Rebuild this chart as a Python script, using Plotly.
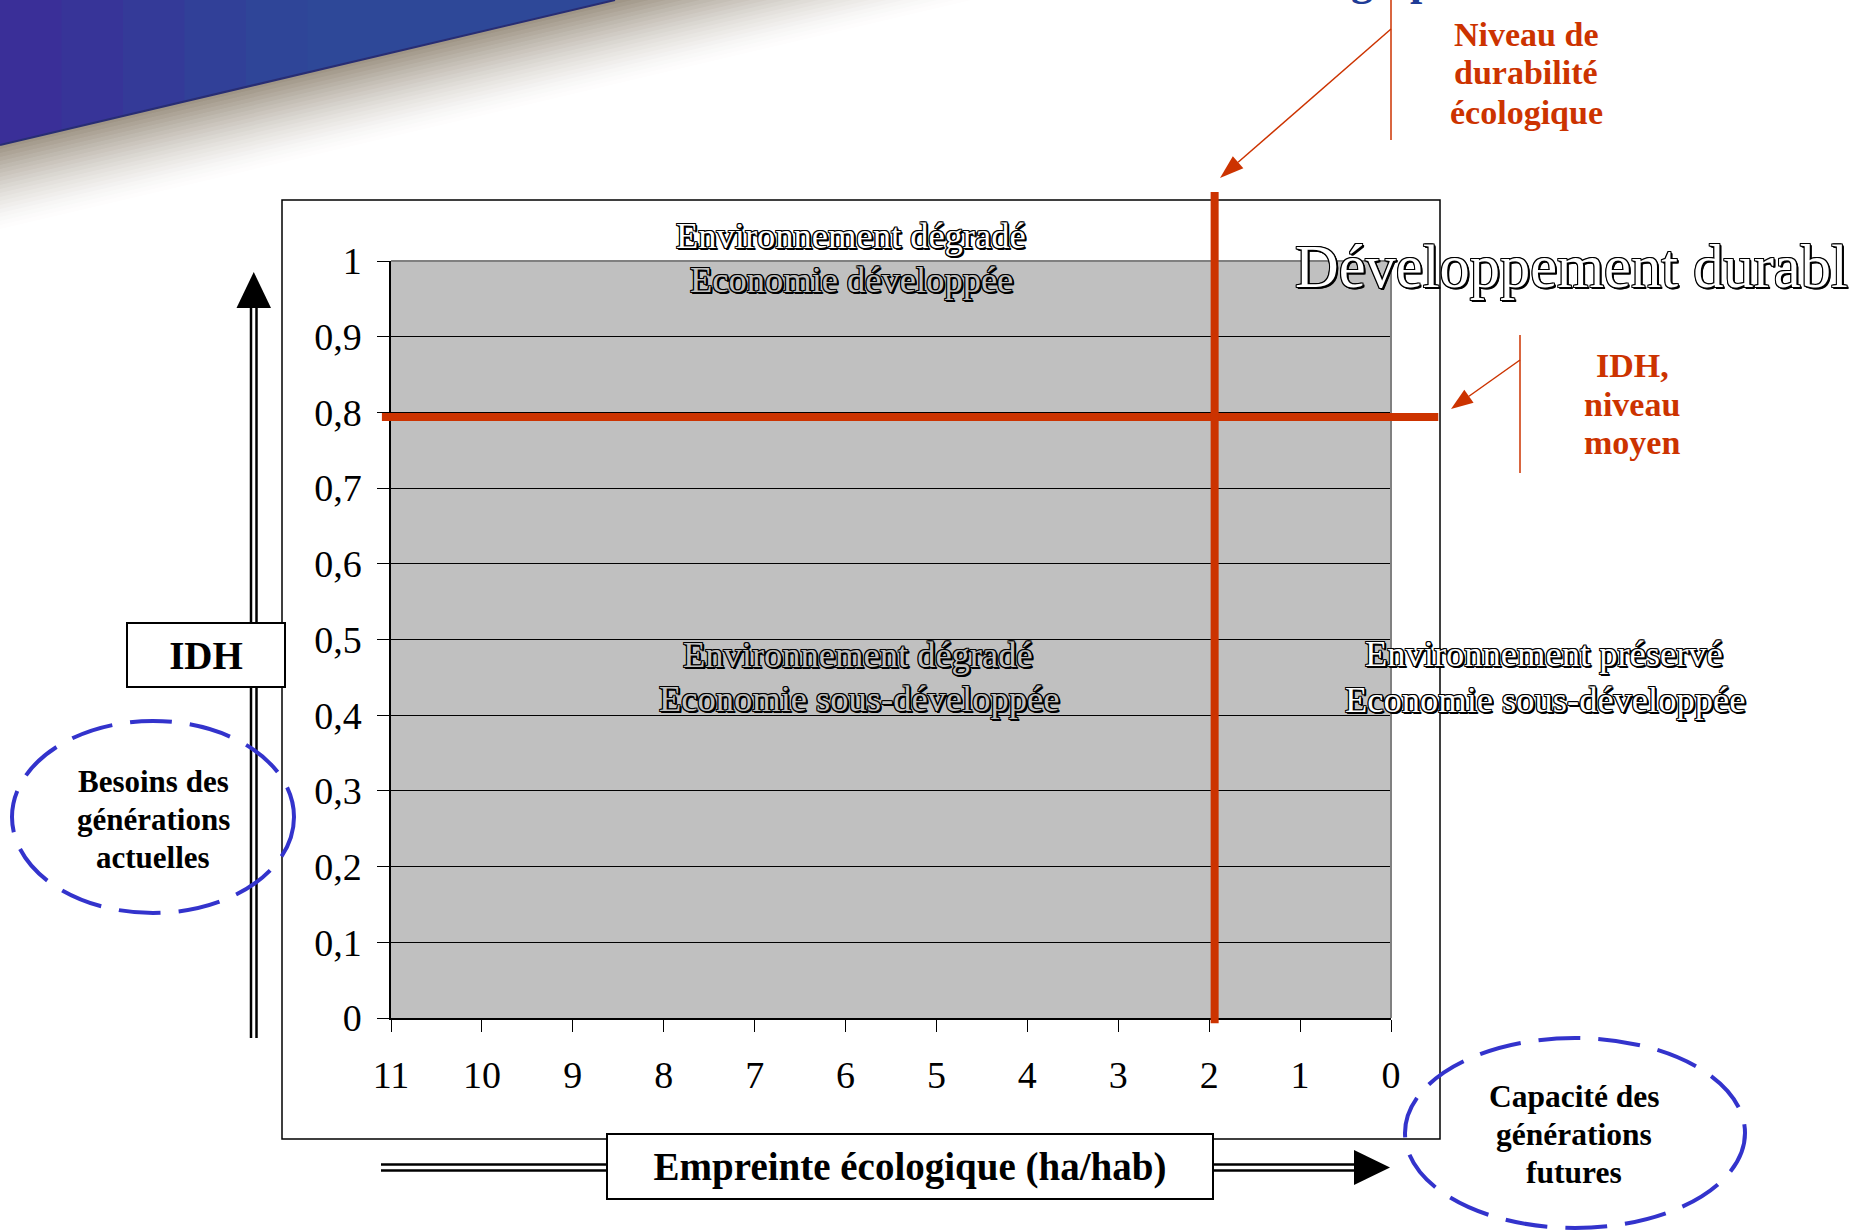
import plotly.graph_objects as go

# ---------------------------------------------------------------------------
# Data
# ---------------------------------------------------------------------------
# Empreinte écologique (ha/hab), axis read from 11 down to 0
X_TICKS = [11, 10, 9, 8, 7, 6, 5, 4, 3, 2, 1, 0]
X_TICK_LABELS = ["11", "10", "9", "8", "7", "6", "5", "4", "3", "2", "1", "0"]

# Indice de développement humain
Y_TICKS = [0, 0.1, 0.2, 0.3, 0.4, 0.5, 0.6, 0.7, 0.8, 0.9, 1]
Y_TICK_LABELS = ["0", "0,1", "0,2", "0,3", "0,4", "0,5", "0,6", "0,7", "0,8", "0,9", "1"]

# Reference levels drawn as the two red lines
ECO_LEVEL = 1.94    # niveau de durabilité écologique (ha/hab)
IDH_LEVEL = 0.794   # IDH, niveau moyen

QUADRANT_TOP = ["Environnement dégradé", "Economie développée"]
QUADRANT_MID = ["Environnement dégradé", "Economie sous-développée"]
QUADRANT_RIGHT = ["Environnement préservé", "Economie sous-développée"]
CORNER_TITLE = "Développement durable"
ECO_NOTE = ["Niveau de", "durabilité", "écologique"]
IDH_NOTE = ["IDH,", "niveau", "moyen"]
NEEDS_NOTE = ["Besoins des", "générations", "actuelles"]
FUTURE_NOTE = ["Capacité des", "générations", "futures"]
X_TITLE = "Empreinte écologique (ha/hab)"
Y_TITLE = "IDH"

# ---------------------------------------------------------------------------
# Page geometry (pixels) and helpers
# ---------------------------------------------------------------------------
W, H = 1849, 1232
PLOT_L, PLOT_R, PLOT_T, PLOT_B = 391, 1391, 261, 1018
X_MAX, X_MIN = 11, 0

RED = "#CC3300"
BLUE = "#3333CC"
SERIF = "Liberation Serif, Times New Roman, serif"


def px(x):
    return x / W


def py(y):
    return 1 - y / H


def xdom(v):
    """Data value on the reversed x axis -> fraction of the x domain."""
    return (X_MAX - v) / (X_MAX - X_MIN)


shapes = []
annotations = []

# --- slide decoration: blue banner with a soft shadow below its edge -------
EDGE_X, EDGE_Y = 615, 145


def edge_y(x):
    return EDGE_Y * (1 - x / EDGE_X)


n_shadow = 22
for k in range(n_shadow):
    d0, d1 = k * 4.0, (k + 1) * 4.0 + 0.8
    t = k / (n_shadow - 1)
    f = (1 - t) ** 1.5
    c = [int(255 - (255 - b) * f) for b in (160, 150, 135)]
    xa, xb = EDGE_X * (1 + d0 / EDGE_Y), EDGE_X * (1 + d1 / EDGE_Y)
    path = (f"M {px(0)},{py(EDGE_Y + d0)} L {px(0)},{py(EDGE_Y + d1)} "
            f"L {px(xb)},{py(0)} L {px(xa)},{py(0)} Z")
    shapes.append(dict(type="path", xref="paper", yref="paper", path=path,
                       fillcolor=f"rgb({c[0]},{c[1]},{c[2]})",
                       line=dict(width=0), layer="below"))

# banner body, painted in overlapping vertical slices for a left-to-right tint
n_blue = 10
for k in range(n_blue):
    x0 = EDGE_X * k / n_blue
    x1 = min(EDGE_X, EDGE_X * (k + 1) / n_blue + 3)
    t = min(1.0, (x0 + x1) / 2 / 300)
    c = [int(a + (b - a) * t) for a, b in zip((60, 44, 152), (46, 72, 152))]
    path = (f"M {px(x0)},{py(0)} L {px(x1)},{py(0)} L {px(x1)},{py(edge_y(x1))} "
            f"L {px(x0)},{py(edge_y(x0))} Z")
    shapes.append(dict(type="path", xref="paper", yref="paper", path=path,
                       fillcolor=f"rgb({c[0]},{c[1]},{c[2]})",
                       line=dict(width=0), layer="below"))
shapes.append(dict(type="line", xref="paper", yref="paper",
                   x0=px(0), y0=py(EDGE_Y), x1=px(EDGE_X), y1=py(0),
                   line=dict(color="rgb(40,45,115)", width=2), layer="below"))

# --- chart frame -------------------------------------------------------------
shapes.append(dict(type="rect", xref="paper", yref="paper",
                   x0=px(282), y0=py(1139), x1=px(1440), y1=py(200),
                   line=dict(color="black", width=1.5), fillcolor="rgba(0,0,0,0)",
                   layer="below"))

# plot-area border (top and right edges in grey)
shapes.append(dict(type="line", xref="x domain", yref="y domain",
                   x0=0, x1=1, y0=1, y1=1,
                   line=dict(color="#808080", width=2), layer="above"))
shapes.append(dict(type="line", xref="x domain", yref="y domain",
                   x0=1, x1=1, y0=0, y1=1,
                   line=dict(color="#808080", width=2), layer="above"))

# --- red reference lines -----------------------------------------------------
shapes.append(dict(type="line", xref="x domain", yref="y",
                   x0=xdom(11.1), x1=xdom(-0.52), y0=IDH_LEVEL, y1=IDH_LEVEL,
                   line=dict(color=RED, width=8), layer="above"))
shapes.append(dict(type="line", xref="x", yref="y domain",
                   x0=ECO_LEVEL, x1=ECO_LEVEL, y0=-0.007, y1=1.091,
                   line=dict(color=RED, width=8), layer="above"))

# --- black double-line arrows for the two axes ------------------------------
for xl in (251.0, 256.5):
    shapes.append(dict(type="line", xref="paper", yref="paper",
                       x0=px(xl), x1=px(xl), y0=py(306), y1=py(1038),
                       line=dict(color="black", width=2.5), layer="above"))
shapes.append(dict(type="path", xref="paper", yref="paper",
                   path=(f"M {px(253.75)},{py(272)} L {px(271)},{py(308)} "
                         f"L {px(236.5)},{py(308)} Z"),
                   fillcolor="black", line=dict(width=0), layer="above"))

for yl in (1164.5, 1170.5):
    shapes.append(dict(type="line", xref="paper", yref="paper",
                       x0=px(381), x1=px(1356), y0=py(yl), y1=py(yl),
                       line=dict(color="black", width=2.5), layer="above"))
shapes.append(dict(type="path", xref="paper", yref="paper",
                   path=(f"M {px(1390)},{py(1167.5)} L {px(1354)},{py(1150)} "
                         f"L {px(1354)},{py(1185)} Z"),
                   fillcolor="black", line=dict(width=0), layer="above"))

# --- red callouts --------------------------------------------------------------


def arrow(tail, tip, color, width=1.5, head_len=24, head_half=8):
    (x0, y0), (x1, y1) = tail, tip
    dx, dy = x1 - x0, y1 - y0
    n = (dx * dx + dy * dy) ** 0.5
    ux, uy = dx / n, dy / n
    bx, by = x1 - ux * head_len, y1 - uy * head_len
    nx, ny = -uy, ux
    shapes.append(dict(type="line", xref="paper", yref="paper",
                       x0=px(x0), y0=py(y0), x1=px(bx), y1=py(by),
                       line=dict(color=color, width=width), layer="above"))
    shapes.append(dict(type="path", xref="paper", yref="paper",
                       path=(f"M {px(x1)},{py(y1)} "
                             f"L {px(bx + nx * head_half)},{py(by + ny * head_half)} "
                             f"L {px(bx - nx * head_half)},{py(by - ny * head_half)} Z"),
                       fillcolor=color, line=dict(width=0), layer="above"))


shapes.append(dict(type="line", xref="paper", yref="paper",
                   x0=px(1391), x1=px(1391), y0=py(0), y1=py(140),
                   line=dict(color=RED, width=1.5), layer="above"))
arrow((1391, 29), (1220, 178), RED)

shapes.append(dict(type="line", xref="paper", yref="paper",
                   x0=px(1520), x1=px(1520), y0=py(335), y1=py(473),
                   line=dict(color=RED, width=1.5), layer="above"))
arrow((1520, 360), (1451, 409), RED, head_len=22)

# --- dashed ellipses -----------------------------------------------------------
shapes.append(dict(type="circle", xref="paper", yref="paper",
                   x0=px(12), x1=px(294), y0=py(913), y1=py(721),
                   line=dict(color=BLUE, width=4, dash="42px,18px"),
                   fillcolor="rgba(0,0,0,0)", layer="above"))
shapes.append(dict(type="circle", xref="paper", yref="paper",
                   x0=px(1405), x1=px(1745), y0=py(1228), y1=py(1038),
                   line=dict(color=BLUE, width=4, dash="42px,18px"),
                   fillcolor="rgba(0,0,0,0)", layer="above"))

# ---------------------------------------------------------------------------
# Text
# ---------------------------------------------------------------------------
OUTLINE = ("-1px -1px 0 #000, 1px -1px 0 #000, -1px 1px 0 #000, 1px 1px 0 #000, "
           "0 -1px 0 #000, 0 1px 0 #000, -1px 0 0 #000, 1px 0 0 #000, "
           "2px 2px 0 #000, 2px 1px 0 #000, 1px 2px 0 #000")


def label(text, x, y, size, color="black", bold=False, shadow=None,
          xanchor="center", family=SERIF):
    font = dict(family=family, size=size, color=color,
                weight="bold" if bold else "normal")
    if shadow:
        font["shadow"] = shadow
    annotations.append(dict(text=text, x=px(x), y=py(y), xref="paper", yref="paper",
                            xanchor=xanchor, yanchor="middle", showarrow=False,
                            font=font))


# quadrant captions in outlined lettering
label(QUADRANT_TOP[0], 851, 235, 36.5, color="white", shadow=OUTLINE)
label(QUADRANT_TOP[1], 851, 279.5, 36.5, color="#C0C0C0", shadow=OUTLINE)
label(QUADRANT_MID[0], 858, 654.5, 36.5, color="#C0C0C0", shadow=OUTLINE)
label(QUADRANT_MID[1], 859, 698, 36.5, color="#C0C0C0", shadow=OUTLINE)
label(QUADRANT_RIGHT[0], 1544, 653.5, 36.5, color="white", shadow=OUTLINE)
label(QUADRANT_RIGHT[1], 1545, 699, 36.5, color="white", shadow=OUTLINE)
label(CORNER_TITLE, 1293, 266, 60.5, color="white", shadow=OUTLINE, xanchor="left")

# red callout texts
for i, t in enumerate(ECO_NOTE):
    label(t, 1526, 34 + 39 * i, 34, color=RED, bold=True)
for i, t in enumerate(IDH_NOTE):
    label(t, 1632, 365 + 39 * i, 34, color=RED, bold=True)

# ellipse texts
for i, t in enumerate(NEEDS_NOTE):
    label(t, 153, 781 + 38 * i, 31, bold=True)
for i, t in enumerate(FUTURE_NOTE):
    label(t, 1574, 1096.5 + 38 * i, 31.5, bold=True)

# slide title running off the top edge (only its descenders remain visible)
label("g", 1362, -19, 44, color="#1F3C96", bold=True)
label("p", 1422, -19, 44, color="#1F3C96", bold=True)

# boxed axis titles
annotations.append(dict(text=f"<b>{Y_TITLE}</b>", x=px(206), y=py(655),
                        xref="paper", yref="paper", xanchor="center", yanchor="middle",
                        showarrow=False, width=156, height=62, borderpad=0,
                        bgcolor="white", bordercolor="black", borderwidth=2,
                        font=dict(family=SERIF, size=39, color="black")))
annotations.append(dict(text=f"<b>{X_TITLE}</b>", x=px(910), y=py(1166.5),
                        xref="paper", yref="paper", xanchor="center", yanchor="middle",
                        showarrow=False, width=604, height=63, borderpad=0,
                        bgcolor="white", bordercolor="black", borderwidth=2,
                        font=dict(family=SERIF, size=39, color="black")))

# ---------------------------------------------------------------------------
# Figure
# ---------------------------------------------------------------------------
fig = go.Figure()
fig.update_layout(
    width=W, height=H, autosize=False,
    margin=dict(l=0, r=0, t=0, b=0, pad=0, autoexpand=False),
    paper_bgcolor="white", plot_bgcolor="#C0C0C0",
    showlegend=False, separators=", ",
    xaxis=dict(domain=[px(PLOT_L), px(PLOT_R)], range=[X_MAX, X_MIN],
               tickmode="array", tickvals=X_TICKS, ticktext=X_TICK_LABELS,
               ticks="outside", ticklen=12, tickwidth=1, tickcolor="black",
               showgrid=False, zeroline=False, showline=True,
               linecolor="black", linewidth=2, automargin=False,
               tickfont=dict(family=SERIF, size=38, color="black"),
               ticklabelstandoff=10, fixedrange=True),
    yaxis=dict(domain=[py(PLOT_B), py(PLOT_T)], range=[0, 1],
               tickmode="array", tickvals=Y_TICKS, ticktext=Y_TICK_LABELS,
               ticks="outside", ticklen=12, tickwidth=1, tickcolor="black",
               showgrid=True, gridcolor="black", gridwidth=1,
               zeroline=False, showline=True, linecolor="black", linewidth=1.5,
               automargin=False,
               tickfont=dict(family=SERIF, size=38, color="black"),
               ticklabelstandoff=8, fixedrange=True),
    shapes=shapes,
    annotations=annotations,
)

fig.write_html("out.html", config={"displayModeBar": False})
